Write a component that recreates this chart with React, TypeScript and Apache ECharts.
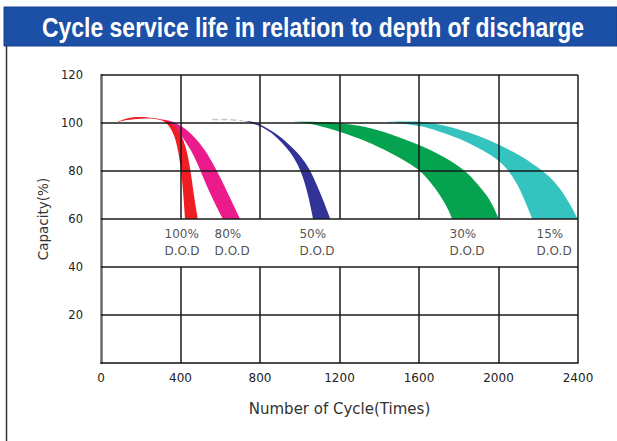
import React, { useEffect, useRef } from "react";
import * as echarts from "echarts";

// ---------- data ----------
const TITLE = "Cycle service life in relation to depth of discharge";
const X_NAME = "Number of Cycle(Times)";
const Y_NAME = "Capacity(%)";
const X_TICKS = [0, 400, 800, 1200, 1600, 2000, 2400];
const Y_TICKS = [0, 20, 40, 60, 80, 100, 120];
const LABEL_GAP = [40, 60]; // no vertical grid lines in this capacity range

const DOD_NAMES = ["100%", "80%", "50%", "30%", "15%"];
const DOD_LABEL_X = [322, 574, 1001, 1756, 2194];
const DOD_LABEL_Y = 56.8;

// each band: outer (upper/right) edge from top to bottom, inner edge from bottom back to top
const dod100Outer = [[70, 100], [130, 101.9], [197, 102.5], [260, 102.1], [310, 101.4], [340, 100.6], [370, 98.8], [395, 96], [415, 92.6], [430, 88.5], [442, 84], [453, 78.5], [465, 71.5], [476, 65.5], [487, 60]];
const dod100Inner = [[423, 60], [416, 68], [408, 76], [398, 83], [386, 89], [372, 93.6], [355, 97], [335, 99.4], [310, 100.9], [280, 101.6], [240, 101.9], [197, 101.8], [130, 101.2], [70, 100]];

const dod80Outer = [[300, 101.6], [340, 101], [380, 99.8], [420, 97.8], [460, 94.9], [500, 91.1], [540, 86.4], [575, 81.2], [610, 75.6], [642, 70], [672, 64.8], [700, 60]];
const dod80Inner = [[613, 60], [582, 65], [553, 70], [526, 75], [501, 80], [477, 84.5], [452, 88.6], [425, 92.2], [397, 95.3], [367, 98], [335, 100.3], [300, 101.6]];

const dod50Outer = [[717, 100.8], [760, 100.5], [810, 99], [880, 95.5], [940, 91.5], [1000, 86.5], [1053, 80], [1107, 70], [1154, 60]];
const dod50Inner = [[1067, 60], [1052, 66], [1035, 72], [1015, 77.5], [990, 82.5], [960, 86.8], [927, 90.2], [890, 93.4], [850, 96.2], [800, 98.6], [751, 100.1], [717, 100.8]];

const dod30Outer = [[965, 100.5], [1100, 100.4], [1205, 99.9], [1330, 98.3], [1457, 95.3], [1600, 90.8], [1720, 86], [1830, 80], [1920, 72], [1965, 66.5], [2002, 60]];
const dod30Inner = [[1767, 60], [1740, 65], [1700, 70.5], [1660, 75], [1610, 79.6], [1540, 83.6], [1457, 87.5], [1330, 92.5], [1205, 96.3], [1100, 98.8], [1040, 99.8], [965, 100.5]];

const dod15Outer = [[1420, 100.4], [1520, 100.6], [1608, 100.5], [1700, 99.4], [1800, 97.3], [1900, 94.6], [2000, 91], [2100, 86.8], [2180, 82.5], [2250, 78], [2310, 72.5], [2360, 66], [2398, 60]];
const dod15Inner = [[2170, 60], [2130, 68], [2090, 75], [2040, 81], [1980, 85.5], [1900, 89.5], [1800, 93.5], [1700, 96.5], [1608, 98.6], [1500, 99.9], [1420, 100.4]];

const fadedLine = [[560, 101.5], [640, 101.4], [714, 100.9]];

// ---------- styles ----------
const BAND_COLORS = ["#ec1b8c", "#f01d25", "#313397", "#05a34f", "#35c3c0"];
const FONT = '"DejaVu Sans", Verdana, sans-serif';

// ---------- custom band shape ----------
function spline(ctx: any, pts: number[][]) {
  const n = pts.length;
  for (let k = 0; k < n - 1; k++) {
    const p0 = pts[Math.max(k - 1, 0)];
    const p1 = pts[k];
    const p2 = pts[k + 1];
    const p3 = pts[Math.min(k + 2, n - 1)];
    const c1x = p1[0] + (p2[0] - p0[0]) / 6;
    const c1y = p1[1] + (p2[1] - p0[1]) / 6;
    const c2x = p2[0] - (p3[0] - p1[0]) / 6;
    const c2y = p2[1] - (p3[1] - p1[1]) / 6;
    ctx.bezierCurveTo(c1x, c1y, c2x, c2y, p2[0], p2[1]);
  }
}

let registered = false;
function registerBand() {
  if (registered) return;
  registered = true;
  const Band = (echarts.graphic as any).extendShape({
    shape: { outer: [], inner: [] },
    buildPath(ctx: any, shape: any) {
      const o = shape.outer;
      const i = shape.inner;
      if (!o || !o.length || !i || !i.length) return;
      ctx.moveTo(o[0][0], o[0][1]);
      spline(ctx, o);
      ctx.lineTo(i[0][0], i[0][1]);
      spline(ctx, i);
      ctx.closePath();
    },
  });
  (echarts.graphic as any).registerShape("dodBand", Band);
}

function bandSeries(name: string, outer: number[][], inner: number[][], color: string) {
  return {
    type: "custom",
    name,
    coordinateSystem: "cartesian2d",
    data: [outer[0]],
    z: 2,
    silent: true,
    renderItem: (params: any, api: any) => {
      if (params.dataIndex !== 0) return null;
      const o = outer.map((p) => api.coord(p));
      const i = inner.map((p) => api.coord(p));
      return { type: "dodBand", shape: { outer: o, inner: i }, style: { fill: color } };
    },
  };
}

export default function App() {
  const ref = useRef<HTMLDivElement>(null);

  useEffect(() => {
    if (!ref.current) return;
    registerBand();
    const chart = echarts.init(ref.current, null, { renderer: "svg" });

    const xMax = X_TICKS[X_TICKS.length - 1];
    const yMax = Y_TICKS[Y_TICKS.length - 1];
    const gridLines: any[] = [
      ...Y_TICKS.filter((v) => v > 0).map((v) => [{ coord: [0, v] }, { coord: [xMax, v] }]),
      ...X_TICKS.filter((v) => v > 0 && v < xMax).flatMap((v) => [
        [{ coord: [v, LABEL_GAP[1]] }, { coord: [v, yMax] }],
        [{ coord: [v, 0] }, { coord: [v, LABEL_GAP[0]] }],
      ]),
      [{ coord: [xMax, 0] }, { coord: [xMax, yMax] }],
    ];

    const option: any = {
      animation: false,
      backgroundColor: "#ffffff",
      grid: { left: 101, right: 39, top: 75, bottom: 78 },
      xAxis: {
        type: "value",
        min: 0,
        max: xMax,
        interval: 400,
        name: X_NAME,
        nameLocation: "middle",
        nameGap: 38,
        nameTextStyle: { fontFamily: FONT, fontSize: 15, color: "#333" },
        axisLine: { show: true, lineStyle: { color: "#111", width: 1.5 } },
        axisTick: { show: false },
        splitLine: { show: false },
        axisLabel: {
          fontFamily: FONT,
          fontSize: 12,
          color: "#222",
          margin: 9,
          formatter: (v: number) => String(v),
        },
      },
      yAxis: {
        type: "value",
        min: 0,
        max: yMax,
        interval: 20,
        name: Y_NAME,
        nameLocation: "middle",
        nameGap: 50,
        nameRotate: 90,
        nameTextStyle: { fontFamily: FONT, fontSize: 13.5, color: "#333" },
        axisLine: { show: true, lineStyle: { color: "#6a6a6a", width: 2.5 } },
        axisTick: { show: false },
        splitLine: { show: false },
        axisLabel: {
          fontFamily: FONT,
          fontSize: 11.5,
          color: "#222",
          margin: 18,
          formatter: (v: number) => (v === 0 ? "" : String(v)),
        },
      },
      graphic: [
        {
          type: "rect",
          shape: { x: 4, y: 7, width: 613, height: 39 },
          style: { fill: "#1c4fa6", stroke: "#163f8c", lineWidth: 1 },
          z: 10,
        },
        {
          type: "text",
          x: 313,
          y: 27,
          scaleX: 0.82,
          z: 11,
          style: {
            text: TITLE,
            fill: "#ffffff",
            fontSize: 28,
            fontWeight: "bold",
            fontFamily: '"Liberation Sans", Arial, sans-serif',
            align: "center",
            verticalAlign: "middle",
          },
        },
        {
          type: "line",
          shape: { x1: 6.5, y1: 46, x2: 6.5, y2: 441 },
          style: { stroke: "#333", lineWidth: 1.5 },
          z: 10,
        },
      ],
      series: [
        bandSeries("80% D.O.D", dod80Outer, dod80Inner, BAND_COLORS[0]),
        bandSeries("100% D.O.D", dod100Outer, dod100Inner, BAND_COLORS[1]),
        bandSeries("50% D.O.D", dod50Outer, dod50Inner, BAND_COLORS[2]),
        bandSeries("30% D.O.D", dod30Outer, dod30Inner, BAND_COLORS[3]),
        bandSeries("15% D.O.D", dod15Outer, dod15Inner, BAND_COLORS[4]),
        {
          type: "line",
          data: fadedLine,
          smooth: true,
          symbol: "none",
          silent: true,
          z: 3,
          lineStyle: { color: "#c8c8c8", width: 1.5, type: "dashed" },
          markLine: {
            silent: true,
            symbol: ["none", "none"],
            label: { show: false },
            emphasis: { disabled: true },
            z: 5,
            lineStyle: { color: "#1a1a1a", width: 1.5, type: "solid" },
            data: gridLines,
          },
        },
        {
          type: "scatter",
          silent: true,
          symbolSize: 1,
          z: 6,
          itemStyle: { color: "rgba(0,0,0,0)" },
          data: DOD_NAMES.map((n, k) => [DOD_LABEL_X[k], DOD_LABEL_Y, n]),
          label: {
            show: true,
            position: [0, 0],
            align: "left",
            verticalAlign: "top",
            fontFamily: FONT,
            fontSize: 12,
            lineHeight: 16.5,
            color: "#222",
            formatter: (p: any) => p.value[2] + "\nD.O.D",
          },
        },
      ],
    };

    chart.setOption(option);
    return () => chart.dispose();
  }, []);

  return (
    <div
      ref={ref}
      style={{ position: "absolute", left: 0, top: 0, width: 617, height: 441, background: "#fff" }}
    />
  );
}
